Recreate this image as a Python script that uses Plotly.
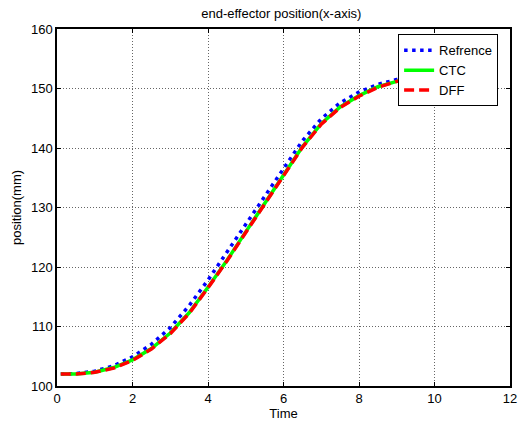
import plotly.graph_objects as go

# time samples (s)
t = [0.1, 0.5, 1.0, 1.5, 2.0, 2.5, 3.0, 3.5, 4.0, 4.5, 5.0,
     5.5, 6.0, 6.5, 7.0, 7.5, 8.0, 8.5, 9.0, 9.5, 10.0]

# end-effector x position (mm)
ref = [102.0, 102.1, 102.5, 103.4, 104.9, 107.0, 109.8, 113.5, 117.8, 122.5, 127.3,
       132.0, 136.6, 141.2, 144.9, 147.6, 149.4, 150.7, 151.5, 151.9, 152.0]
ctc = [102.0, 102.0, 102.3, 103.1, 104.4, 106.3, 108.9, 112.3, 116.6, 121.1, 125.9,
       130.6, 135.3, 140.2, 144.1, 146.9, 148.8, 150.3, 151.2, 151.8, 152.0]
dff = [102.0, 102.0, 102.3, 103.0, 104.3, 106.2, 108.8, 112.2, 116.5, 121.0, 125.8,
       130.5, 135.2, 140.1, 144.0, 146.8, 148.7, 150.2, 151.2, 151.8, 152.0]

x_ticks = [0, 2, 4, 6, 8, 10, 12]
y_ticks = [100, 110, 120, 130, 140, 150, 160]

font = "Liberation Sans, Arial, sans-serif"

fig = go.Figure()
fig.add_trace(go.Scatter(x=t, y=ref, mode="lines", name="Refrence",
                         line=dict(color="#0000ff", width=3.5, dash="3.5px,4.5px")))
fig.add_trace(go.Scatter(x=t, y=ctc, mode="lines", name="CTC",
                         line=dict(color="#00ff00", width=3.5)))
fig.add_trace(go.Scatter(x=t, y=dff, mode="lines", name="DFF",
                         line=dict(color="#ff0000", width=3.5, dash="10px,5px")))

axis_common = dict(
    showline=True, linecolor="black", linewidth=1.5, mirror="ticks",
    ticks="inside", ticklen=4, tickcolor="black",
    showgrid=True, gridcolor="#666666", griddash="1px,2px", gridwidth=1,
    zeroline=False, tickfont=dict(size=13, color="black", family=font),
)

fig.update_xaxes(range=[0, 12], tickvals=x_ticks,
                 title=dict(text="Time", font=dict(size=13, color="black", family=font), standoff=2),
                 **axis_common)
fig.update_yaxes(range=[100, 160], tickvals=y_ticks,
                 title=dict(text="position(mm)", font=dict(size=13, color="black", family=font), standoff=6),
                 **axis_common)

fig.update_layout(
    width=518, height=425,
    margin=dict(l=57, r=8, t=29, b=39, autoexpand=False),
    paper_bgcolor="white", plot_bgcolor="white",
    font=dict(family=font, size=13, color="black"),
    title=dict(text="end-effector position(x-axis)", x=0.543, xanchor="center",
               y=0.978, yanchor="top", font=dict(size=13, color="black", family=font)),
    legend=dict(x=0.753, y=0.985, xanchor="left", yanchor="top",
                bgcolor="white", bordercolor="black", borderwidth=1,
                font=dict(size=13, color="black", family=font),
                tracegroupgap=0),
    showlegend=True,
)

# drop the browser's default body margin so the figure sits at the page corner
fig.write_html("out.html", config={"displayModeBar": False},
               post_script="document.body.style.margin='0';")
